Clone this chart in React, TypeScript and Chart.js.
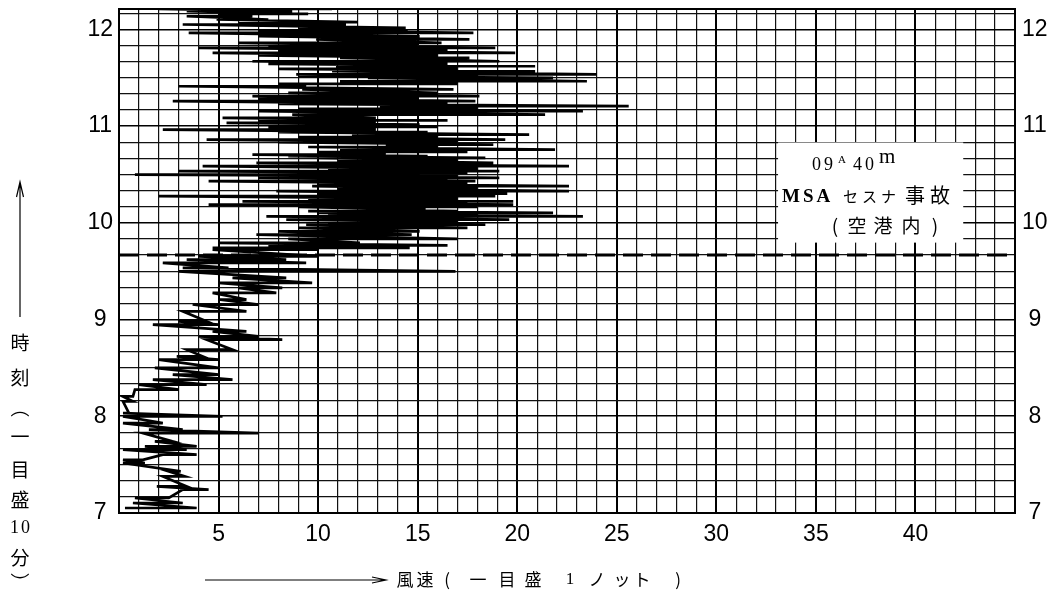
import React, { useEffect, useRef } from 'react';
import { Chart, registerables } from 'chart.js';

Chart.register(...registerables);

// Time of each pen stroke, minutes after midnight (07:00 = 420)
const traceMinute = [
  423.1, 426.2, 429.3, 434.5, 436.5, 442.7, 445.8, 451.0, 453.0, 456.2,
  459.3, 461.3, 464.4, 469.6, 471.7, 475.8, 479.9, 482.0, 489.2, 492.3,
  496.5, 499.6, 502.7, 505.8, 510.0, 515.1, 517.2, 521.3, 527.5, 529.6,
  532.7, 536.8, 538.9, 545.1, 549.3, 552.4, 556.5, 559.6, 562.7, 565.8,
  569.9, 572.0, 575.1, 577.2, 579.2, 583.4,
  584.4, 586.0, 587.5, 590.0, 592.7, 594.7, 596.8, 598.9, 600.5, 602.0,
  603.0, 604.0, 605.1, 606.2, 607.2, 608.2, 609.8, 611.3, 612.3, 613.3,
  614.9, 616.5, 618.0, 619.6, 621.2, 622.7, 624.2, 625.8, 626.9, 627.9,
  628.9, 629.9, 631.0, 632.0, 633.5, 635.1, 636.2, 637.2, 638.8, 640.3,
  641.3, 642.3, 643.9, 645.4, 647.0, 648.5, 650.0, 651.6, 653.1, 654.7,
  656.2, 657.8, 659.4, 660.9, 662.0, 663.5, 665.1, 667.1, 669.2, 670.7,
  672.3, 673.8, 675.4, 677.0, 678.5, 680.6, 682.7, 684.7, 686.2, 687.8,
  689.9, 691.0, 692.0, 694.0, 695.5, 697.1, 698.6, 700.2, 702.3, 703.8,
  705.4, 707.0, 708.5, 710.0, 711.6, 713.7, 715.7, 717.8, 719.3, 720.9,
  723.0, 724.5, 726.1, 728.1, 729.6, 731.2, 732.6,
];
// Low end of each stroke (knots)
const traceLow = [
  0.3, 0.7, 0.8, 3.2, 1.9, 2.2, 2.5, 0.2, 0.2, 2.2,
  0.2, 1.3, 1.8, 1.2, 1.5, 0.2, 0.2, 0.2, 0.2, 0.2,
  0.8, 1.0, 1.7, 2.7, 1.8, 2.0, 2.9, 3.4, 4.4, 4.0,
  4.7, 1.7, 3.0, 3.2, 3.7, 5.0, 4.7, 6.0, 5.0, 5.7,
  3.0, 3.2, 2.2, 3.4, 4.0, 4.7,
  4.7, 7.5, 5.0, 8.5, 6.9, 8.0, 9.0, 9.4, 10.5, 8.4,
  11.0, 7.4, 10.5, 10.0, 9.5, 12.7, 9.0, 4.5, 10.0, 6.2,
  9.5, 2.0, 10.0, 7.9, 11.0, 9.7, 10.0, 4.5, 9.0, 7.0,
  10.5, 0.8, 9.0, 3.0, 10.5, 4.2, 9.5, 6.9, 11.0, 10.0,
  8.5, 6.7, 10.0, 11.1, 9.5, 13.4, 8.0, 4.4, 9.0, 11.7,
  8.0, 2.2, 7.5, 8.4, 5.4, 7.0, 5.2, 8.7, 7.0, 9.0,
  13.1, 8.0, 2.7, 7.0, 6.7, 8.5, 9.2, 3.0, 8.0, 11.1,
  12.5, 9.0, 8.9, 10.7, 8.0, 10.9, 7.5, 6.7, 11.1, 7.0,
  4.7, 8.0, 4.0, 7.5, 6.0, 9.9, 7.0, 3.5, 7.0, 9.0,
  3.2, 6.0, 4.9, 3.4, 5.0, 3.4, 2.0,
];
// High end of each stroke (knots)
const traceHigh = [
  3.9, 3.2, 2.5, 4.5, 3.4, 3.3, 3.1, 1.3, 1.2, 3.9,
  3.4, 3.9, 2.7, 7.0, 3.2, 2.2, 5.2, 0.5, 0.7, 0.7,
  3.0, 4.4, 5.7, 5.0, 5.0, 5.0, 4.2, 5.7, 8.2, 7.0,
  6.4, 5.0, 4.4, 6.4, 7.0, 6.4, 7.9, 8.2, 9.7, 8.4,
  16.9, 5.5, 9.4, 8.4, 10.0, 10.0,
  14.6, 16.5, 12.1, 17.0, 14.7, 15.1, 17.5, 18.4, 17.0, 19.6,
  16.5, 23.3, 18.0, 21.8, 17.0, 15.4, 18.0, 19.8, 17.5, 19.8,
  17.0, 18.9, 19.5, 22.6, 18.0, 22.6, 17.5, 17.9, 16.5, 19.1,
  17.0, 15.1, 17.5, 19.1, 18.0, 22.6, 16.5, 18.8, 17.0, 18.4,
  15.5, 13.4, 17.5, 21.9, 16.0, 18.8, 17.0, 19.4, 16.0, 20.6,
  15.5, 12.9, 16.0, 15.1, 12.9, 16.5, 12.9, 21.4, 23.3, 18.0,
  25.6, 16.5, 17.9, 15.0, 18.1, 16.0, 16.8, 9.4, 17.0, 23.5,
  21.8, 18.0, 24.0, 20.9, 17.0, 20.9, 16.5, 19.1, 17.6, 16.0,
  19.9, 16.5, 18.9, 15.0, 16.2, 17.6, 15.1, 17.8, 14.5, 14.4,
  11.4, 12.0, 7.5, 6.7, 9.5, 8.7, 10.7,
];

const accidentMinute = 580; // 09h40m
const speedMin = 0;
const speedMax = 45;
const minuteMin = 420;
const minuteMax = 732.6;
const speedLabelValues = [5, 10, 15, 20, 25, 30, 35, 40];
const hourLabelValues = [7, 8, 9, 10, 11, 12];

const noteLine1 = ['09', 'A', '40', 'm'];
const noteLine2 = ['MSA', 'セスナ', '事故'];
const noteLine3 = ['(', '空', '港', '内', ')'];
const yTitleChars = ['時', '刻', '︵', '一', '目', '盛', '10', '分', '︶'];
const xTitleChars = ['風', '速', '(', '一', '目', '盛', '1', 'ノ', 'ッ', 'ト', ')'];

const CJK = '"Noto Sans CJK JP"';
const SERIF = '"Liberation Serif", "DejaVu Serif", serif';
const SANS = '"Liberation Sans", "DejaVu Sans", sans-serif';

const decorPlugin = {
  id: 'decor',
  afterDraw(chart: any) {
    const { ctx, chartArea: a, scales } = chart;
    const xs = scales.x;
    const ys = scales.y;
    ctx.save();
    // frame
    ctx.strokeStyle = '#000';
    ctx.lineWidth = 2;
    ctx.strokeRect(a.left, a.top, a.right - a.left, a.bottom - a.top);

    // note box
    const bx1 = xs.getPixelForValue(33.1);
    const bx2 = xs.getPixelForValue(42.4);
    const by1 = ys.getPixelForValue(649.8);
    const by2 = ys.getPixelForValue(587.7);
    ctx.fillStyle = '#fff';
    ctx.fillRect(bx1, by1, bx2 - bx1, by2 - by1);

    ctx.fillStyle = '#000';
    ctx.textBaseline = 'alphabetic';
    ctx.textAlign = 'left';
    (ctx as any).letterSpacing = '3px';
    ctx.font = `18px ${SERIF}`;
    ctx.fillText(noteLine1[0], 812, 170);
    (ctx as any).letterSpacing = '0px';
    ctx.font = `11px ${SERIF}`;
    ctx.fillText(noteLine1[1], 838, 163);
    (ctx as any).letterSpacing = '3px';
    ctx.font = `18px ${SERIF}`;
    ctx.fillText(noteLine1[2], 853, 170);
    (ctx as any).letterSpacing = '0px';
    ctx.font = `21px ${SERIF}`;
    ctx.fillText(noteLine1[3], 879, 163);

    (ctx as any).letterSpacing = '3px';
    ctx.font = `bold 19px ${SERIF}`;
    ctx.fillText(noteLine2[0], 782, 202);
    (ctx as any).letterSpacing = '4px';
    ctx.font = `15px ${CJK}`;
    ctx.fillText(noteLine2[1], 843, 202);
    (ctx as any).letterSpacing = '5px';
    ctx.font = `20px ${CJK}`;
    ctx.fillText(noteLine2[2], 905, 203);

    (ctx as any).letterSpacing = '0px';
    ctx.textAlign = 'center';
    ctx.textBaseline = 'middle';
    ctx.font = `19px ${CJK}`;
    const l3x = [835, 857, 883, 911, 935];
    noteLine3.forEach((c, i) => ctx.fillText(c, l3x[i], 226));

    // left vertical title with arrow
    ctx.lineWidth = 1.2;
    ctx.beginPath();
    ctx.moveTo(20, 317);
    ctx.lineTo(20, 184);
    ctx.moveTo(16.5, 197);
    ctx.lineTo(20, 182);
    ctx.lineTo(23.5, 197);
    ctx.stroke();
    const yt = [343, 378, 408, 437, 470, 500, 528, 558, 583];
    yTitleChars.forEach((c, i) => {
      if (c === '10') {
        (ctx as any).letterSpacing = '2px';
        ctx.font = `18px ${SERIF}`;
        ctx.fillText(c, 21, yt[i]);
        (ctx as any).letterSpacing = '0px';
      } else {
        ctx.font = `19px ${CJK}`;
        ctx.fillText(c, 20, yt[i]);
      }
    });

    // bottom title with arrow
    ctx.lineWidth = 1.2;
    ctx.beginPath();
    ctx.moveTo(205, 580);
    ctx.lineTo(385, 580);
    ctx.moveTo(372, 577);
    ctx.lineTo(386, 580);
    ctx.lineTo(372, 583);
    ctx.stroke();
    const xt = [405, 425, 447, 478, 507, 533, 570, 597, 622, 642, 678];
    xTitleChars.forEach((c, i) => {
      ctx.font = c === '1' ? `17px ${SERIF}` : `17px ${CJK}`;
      ctx.fillText(c, xt[i], 580);
    });
    ctx.restore();
  },
};

export default function App() {
  const ref = useRef<HTMLCanvasElement | null>(null);
  useEffect(() => {
    if (!ref.current) return;
    const tracePoints: { x: number; y: number }[] = [];
    traceMinute.forEach((m, i) => {
      tracePoints.push({ x: traceLow[i], y: m });
      tracePoints.push({ x: traceHigh[i], y: m });
    });
    const gridColor = (v: number, major: number) => (v % major === 0 ? '#000' : '#111');
    const hourTick = (v: number) =>
      hourLabelValues.includes(v / 60) ? String(v / 60) : '';
    const fitY = (w: number) => (s: any) => {
      s.width = w;
      s.paddingTop = 0;
      s.paddingBottom = 0;
    };
    const chart = new Chart(ref.current, {
      type: 'scatter',
      data: {
        datasets: [
          {
            data: tracePoints,
            showLine: true,
            borderColor: '#000',
            borderWidth: 2.7,
            pointRadius: 0,
            tension: 0,
          },
          {
            data: [
              { x: speedMin, y: accidentMinute },
              { x: speedMax, y: accidentMinute },
            ],
            showLine: true,
            borderColor: '#000',
            borderWidth: 3,
            borderDash: [20, 8],
            pointRadius: 0,
          },
        ],
      },
      options: {
        animation: false,
        responsive: true,
        maintainAspectRatio: false,
        layout: { padding: { top: 9, left: 0, right: 0, bottom: 0 } },
        plugins: { legend: { display: false }, tooltip: { enabled: false } },
        scales: {
          x: {
            type: 'linear',
            position: 'bottom',
            min: speedMin,
            max: speedMax,
            afterFit: (s: any) => {
              s.height = 80;
              s.paddingLeft = 0;
              s.paddingRight = 0;
            },
            border: { display: true, color: '#000', width: 2 },
            grid: {
              drawTicks: false,
              color: (c: any) => gridColor(c.tick.value, 5),
              lineWidth: (c: any) => (c.tick.value % 5 === 0 ? 2 : 1.2),
            },
            ticks: {
              stepSize: 1,
              autoSkip: false,
              maxRotation: 0,
              padding: 8,
              color: '#000',
              font: { family: SANS, size: 23 },
              callback: (v: any) => (speedLabelValues.includes(v) ? String(v) : ''),
            },
          },
          y: {
            type: 'linear',
            position: 'left',
            min: minuteMin,
            max: minuteMax,
            afterFit: fitY(119),
            border: { display: true, color: '#000', width: 2 },
            grid: {
              drawTicks: false,
              color: (c: any) => gridColor(c.tick.value, 60),
              lineWidth: (c: any) => (c.tick.value % 60 === 0 ? 1.6 : 1.2),
            },
            ticks: {
              stepSize: 10,
              includeBounds: false,
              autoSkip: false,
              crossAlign: 'center',
              padding: 6,
              color: '#000',
              font: { family: SANS, size: 23 },
              callback: (v: any) => hourTick(v),
            },
          },
          yRight: {
            type: 'linear',
            position: 'right',
            min: minuteMin,
            max: minuteMax,
            afterFit: fitY(47),
            border: { display: true, color: '#000', width: 2 },
            grid: { display: false, drawTicks: false },
            ticks: {
              stepSize: 10,
              includeBounds: false,
              autoSkip: false,
              crossAlign: 'center',
              padding: 7,
              color: '#000',
              font: { family: SANS, size: 23 },
              callback: (v: any) => hourTick(v),
            },
          },
        },
      } as any,
      plugins: [decorPlugin],
    });
    return () => chart.destroy();
  }, []);
  return (
    <div style={{ position: 'absolute', left: 0, top: 0, width: 1062, height: 593, background: '#fff' }}>
      <canvas ref={ref} />
    </div>
  );
}
